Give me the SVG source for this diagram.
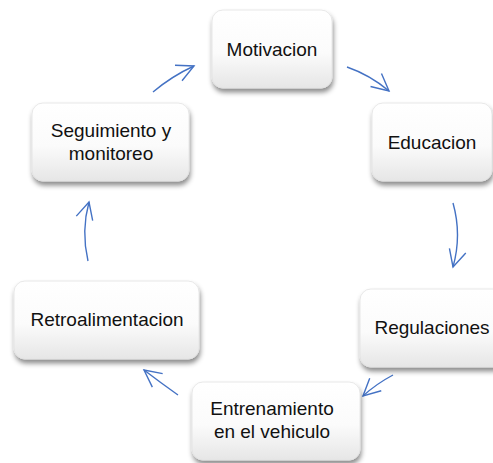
<svg xmlns="http://www.w3.org/2000/svg" width="493" height="463" viewBox="0 0 493 463">
<style>
.box{fill:url(#g);stroke:#e2e2e2;stroke-width:0.8;filter:url(#sh)}
.t{font-family:"Liberation Sans",Arial,sans-serif;font-size:19px;fill:#111;text-anchor:middle}
.c{fill:none;stroke:#4472C4;stroke-width:1.4;marker-end:url(#ah)}
</style>
<defs>
<linearGradient id="g" x1="0" y1="0" x2="0" y2="1">
<stop offset="0" stop-color="#ffffff"/>
<stop offset="0.55" stop-color="#fbfbfb"/>
<stop offset="1" stop-color="#e6e6e6"/>
</linearGradient>
<filter id="sh" x="-20%" y="-20%" width="140%" height="150%">
<feDropShadow dx="1" dy="4" stdDeviation="2.5" flood-color="#000" flood-opacity="0.45"/>
</filter>
<marker id="ah" markerUnits="userSpaceOnUse" markerWidth="20" markerHeight="20" refX="0" refY="0" orient="auto" overflow="visible">
<path d="M-17,-8.5 L0,0 L-17,8.5" fill="none" stroke="#4472C4" stroke-width="1.4"/>
</marker>
</defs>
<g id="connectors">
<path class="c" d="M153,92 Q172,76 194,66"/>
<path class="c" d="M347,67 Q370,75 389,91"/>
<path class="c" d="M453,203 Q462,235 453,267"/>
<path class="c" d="M393,375 Q376,384 363,396"/>
<path class="c" d="M178,395 Q161,383 144,370"/>
<path class="c" d="M88,261 Q81,231 89,202"/>
</g>
<g id="motivacion">
<rect class="box" x="212" y="10" width="120" height="78" rx="11"/>
<text class="t" x="272" y="56">Motivacion</text>
</g>
<g id="educacion">
<rect class="box" x="372" y="103" width="120" height="78" rx="11"/>
<text class="t" x="432" y="149">Educacion</text>
</g>
<g id="regulaciones">
<rect class="box" x="360" y="289" width="144" height="78" rx="11"/>
<text class="t" x="432" y="334">Regulaciones</text>
</g>
<g id="entrenamiento">
<rect class="box" x="192" y="382" width="168" height="78" rx="11"/>
<text class="t" x="272" y="415">Entrenamiento</text>
<text class="t" x="272" y="438">en el vehiculo</text>
</g>
<g id="retroalimentacion">
<rect class="box" x="14" y="281" width="185" height="78" rx="11"/>
<text class="t" x="107" y="326">Retroalimentacion</text>
</g>
<g id="seguimiento">
<rect class="box" x="32" y="103" width="157" height="78" rx="11"/>
<text class="t" x="111" y="137">Seguimiento y</text>
<text class="t" x="111" y="160">monitoreo</text>
</g>
</svg>
